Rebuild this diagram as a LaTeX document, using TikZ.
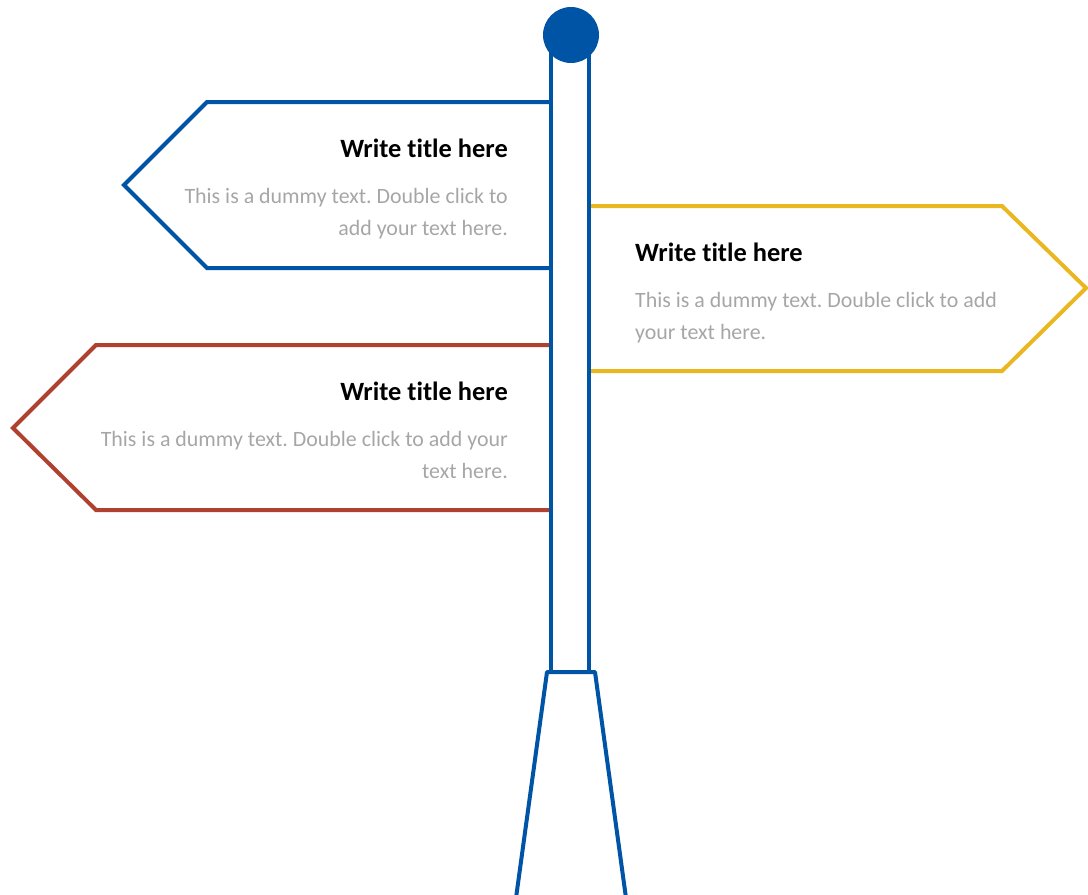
\documentclass[tikz,border=0pt]{standalone}
\usepackage{fontspec}
\setmainfont[Ligatures={NoCommon}]{Carlito}
\frenchspacing
\definecolor{pblue}{RGB}{0,84,166}
\definecolor{pyellow}{RGB}{235,183,33}
\definecolor{pred}{RGB}{176,65,46}
\definecolor{ptext}{RGB}{166,166,166}
\begin{document}
\begin{tikzpicture}[x=1pt,y=-1pt,line join=miter,
  signline/.style={line width=4pt},
  ttl/.style={font=\fontsize{26.4}{30}\selectfont\bfseries, text=black, inner sep=0pt},
  bdy/.style={font=\fontsize{21.9}{32}\selectfont, text=ptext, inner sep=0pt}]
\useasboundingbox (0,0) rectangle (1088,895);
% signs
\draw[signline,pblue] (551,102) -- (207,102) -- (124,185) -- (207,268) -- (551,268);
\draw[signline,pyellow] (589,206) -- (1002,206) -- (1086,288) -- (1002,371) -- (589,371);
\draw[signline,pred] (551,345) -- (96,345) -- (13,428) -- (96,510) -- (551,510);
% pole
\draw[signline,pblue] (551,50) -- (551,672);
\draw[signline,pblue] (589,50) -- (589,672);
\draw[signline,pblue,line join=round] (547,672) -- (595,672) -- (626,898) -- (516,898) -- cycle;
\fill[pblue] (571,35) circle (28);
% texts
\node[ttl,anchor=base east] (t1) at (508,157) {Write title here};
\node[bdy,anchor=base east] (b1a) at (508,203) {This is a dummy text. Double click to};
\node[bdy,anchor=base east] (b1b) at (508,235) {add your text here.};
\node[ttl,anchor=base west] (t2) at (635,261) {Write title here};
\node[bdy,anchor=base west] (b2a) at (635,307) {This is a dummy text. Double click to add};
\node[bdy,anchor=base west] (b2b) at (635,339) {your text here.};
\node[ttl,anchor=base east] (t3) at (508,400) {Write title here};
\node[bdy,anchor=base east] (b3a) at (508,446) {This is a dummy text. Double click to add your};
\node[bdy,anchor=base east] (b3b) at (508,478) {text here.};
\end{tikzpicture}
\end{document}
